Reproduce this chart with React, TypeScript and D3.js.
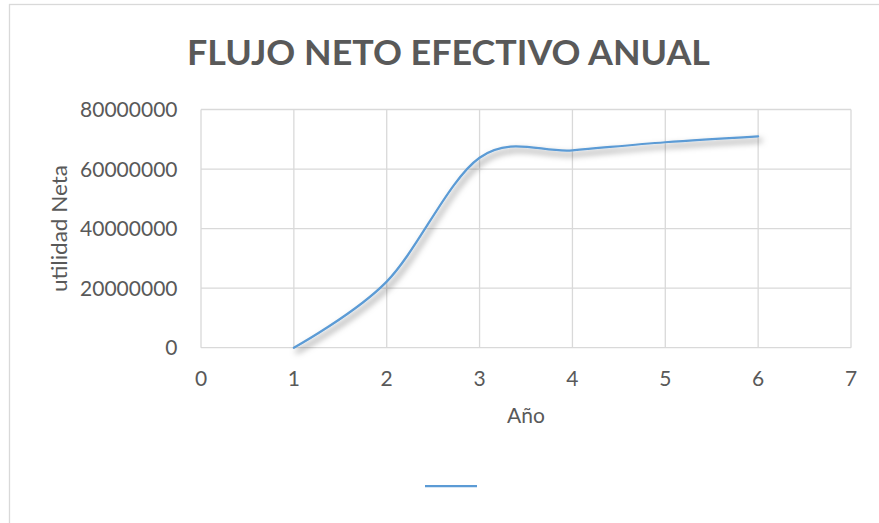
import React from "react";
import * as d3 from "d3";

const years = [1, 2, 3, 4, 5, 6];
const utilidad = [0, 22200000, 63800000, 66300000, 69000000, 71000000];
const xTicks = [0, 1, 2, 3, 4, 5, 6, 7];
const yTicks = [0, 20000000, 40000000, 60000000, 80000000];
const title = "FLUJO NETO EFECTIVO ANUAL";
const xLabel = "Año";
const yLabel = "utilidad Neta";

export default function App() {
  const W = 879, H = 523;
  const left = 201, right = 851, top = 109.5, bottom = 347.7;
  const x = d3.scaleLinear().domain([0, 7]).range([left, right]);
  const y = d3.scaleLinear().domain([0, 80000000]).range([bottom, top]);
  const pts = years.map((yr, i) => [x(yr), y(utilidad[i])] as [number, number]);
  const line = d3.line().curve(d3.curveCardinal.tension(0))(pts) || "";
  const font = "Lato, 'Open Sans', sans-serif";
  const txt = "#595959";
  const grid = "#d9d9d9";
  return (
    <svg width={W} height={H} style={{ position: "absolute", left: 0, top: 0, background: "#fff" }}>
      <defs>
        <filter id="sh" x="-10%" y="-10%" width="130%" height="140%">
          <feDropShadow dx="3" dy="4" stdDeviation="3" floodColor="#000" floodOpacity="0.55" />
        </filter>
      </defs>
      <rect x={9.5} y={4.5} width={W} height={H} fill="#fff" stroke={grid} strokeWidth={1.3} />
      <text x={448.5} y={65} textAnchor="middle" fontFamily={font} fontWeight={700} fontSize={35} fill={txt} textLength={523} lengthAdjust="spacingAndGlyphs">{title}</text>
      {yTicks.map((t) => (
        <line key={"gy" + t} x1={left} x2={right} y1={y(t)} y2={y(t)} stroke={grid} strokeWidth={1.3} />
      ))}
      {xTicks.map((t) => (
        <line key={"gx" + t} x1={x(t)} x2={x(t)} y1={top} y2={bottom} stroke={grid} strokeWidth={1.3} />
      ))}
      {yTicks.map((t) => (
        <text key={"ly" + t} x={177.5} y={y(t)} dy="0.36em" textAnchor="end" fontFamily={font} fontSize={21} fill={txt}>{t}</text>
      ))}
      {xTicks.map((t) => (
        <text key={"lx" + t} x={x(t)} y={385.5} textAnchor="middle" fontFamily={font} fontSize={21} fill={txt}>{t}</text>
      ))}
      <text x={(left + right) / 2} y={423.3} textAnchor="middle" fontFamily={font} fontSize={21} fill={txt}>{xLabel}</text>
      <text transform={`translate(66.7, 228.5) rotate(-90)`} textAnchor="middle" fontFamily={font} fontSize={21.5} fill={txt} textLength={127} lengthAdjust="spacingAndGlyphs">{yLabel}</text>
      <path d={line} fill="none" stroke="#5B9BD5" strokeWidth={2.25} strokeLinecap="round" filter="url(#sh)" />
      <line x1={425} x2={477} y1={486} y2={486} stroke="#5B9BD5" strokeWidth={2.25} />
    </svg>
  );
}
